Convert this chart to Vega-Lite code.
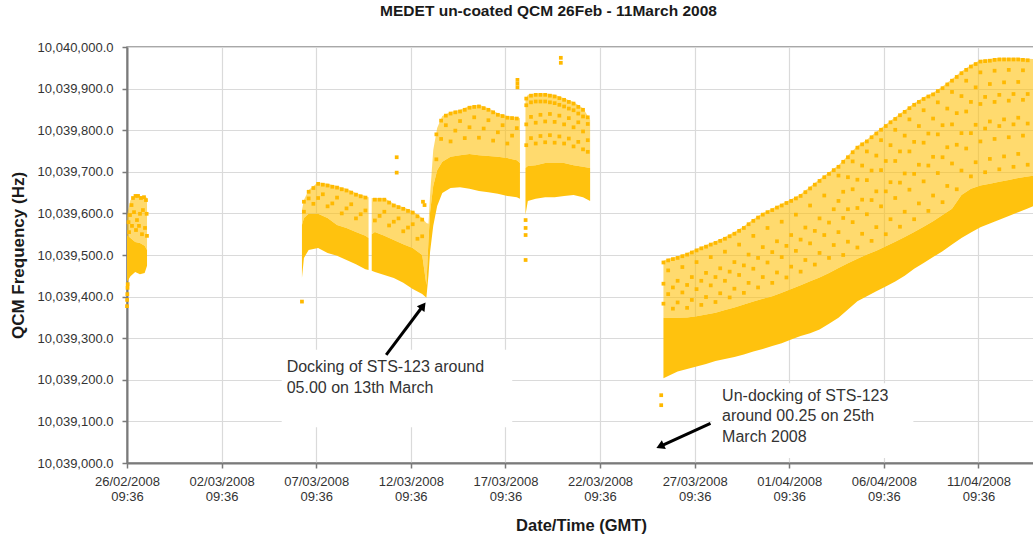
{
  "$schema": "https://vega.github.io/schema/vega-lite/v6.json",
  "autosize": "none",
  "width": 907,
  "height": 416,
  "padding": {"left": 127, "top": 47, "right": 0, "bottom": 74},
  "background": "white",
  "title": {
    "text": "MEDET un-coated QCM 26Feb - 11March 2008",
    "font": "Liberation Sans",
    "fontSize": 15.5,
    "fontWeight": "bold",
    "color": "#1a1a1a",
    "anchor": "middle",
    "dx": -32,
    "offset": 22
  },
  "config": {
    "font": "Liberation Sans",
    "view": {"stroke": "#8c8c8c", "strokeWidth": 1.5},
    "axis": {
      "labelFont": "Liberation Sans",
      "labelFontSize": 13,
      "labelColor": "#333333",
      "titleFont": "Liberation Sans",
      "titleFontSize": 16.5,
      "titleFontWeight": "bold",
      "titleColor": "#1a1a1a",
      "gridColor": "#dadada",
      "gridWidth": 1.2,
      "domainColor": "#7a7a7a",
      "domainWidth": 2,
      "tickColor": "#7a7a7a",
      "tickWidth": 1.5,
      "tickSize": 5
    }
  },
  "encoding": {
    "x": {
      "field": "t",
      "type": "temporal",
      "title": "Date/Time (GMT)",
      "scale": {
        "type": "utc",
        "domain": [
          {"year": 2008, "month": 2, "date": 26, "hours": 9, "minutes": 36, "utc": true},
          {"year": 2008, "month": 4, "date": 14, "hours": 8, "minutes": 0, "utc": true}
        ]
      },
      "axis": {
        "values": [
          {"year": 2008, "month": 2, "date": 26, "hours": 9, "minutes": 36, "utc": true},
          {"year": 2008, "month": 3, "date": 2, "hours": 9, "minutes": 36, "utc": true},
          {"year": 2008, "month": 3, "date": 7, "hours": 9, "minutes": 36, "utc": true},
          {"year": 2008, "month": 3, "date": 12, "hours": 9, "minutes": 36, "utc": true},
          {"year": 2008, "month": 3, "date": 17, "hours": 9, "minutes": 36, "utc": true},
          {"year": 2008, "month": 3, "date": 22, "hours": 9, "minutes": 36, "utc": true},
          {"year": 2008, "month": 3, "date": 27, "hours": 9, "minutes": 36, "utc": true},
          {"year": 2008, "month": 4, "date": 1, "hours": 9, "minutes": 36, "utc": true},
          {"year": 2008, "month": 4, "date": 6, "hours": 9, "minutes": 36, "utc": true},
          {"year": 2008, "month": 4, "date": 11, "hours": 9, "minutes": 36, "utc": true}
        ],
        "labelExpr": "[utcFormat(datum.value, '%d/%m/%Y'), utcFormat(datum.value, '%H:%M')]",
        "labelLineHeight": 15,
        "labelPadding": 7,
        "labelAlign": "center",
        "labelOverlap": false,
        "grid": true,
        "titleX": 454,
        "titleY": 62,
        "titleBaseline": "middle"
      }
    },
    "y": {
      "field": "f",
      "type": "quantitative",
      "title": "QCM Frequency (Hz)",
      "scale": {"domain": [10039000, 10040000], "zero": false, "nice": false},
      "axis": {
        "values": [10039000, 10039100, 10039200, 10039300, 10039400, 10039500, 10039600, 10039700, 10039800, 10039900, 10040000],
        "format": ",.1f",
        "labelPadding": 9,
        "grid": true,
        "titleX": -109,
        "titleY": 208,
        "titleFontSize": 17,
        "titleAngle": 270,
        "titleAlign": "center",
        "titleBaseline": "middle"
      }
    }
  },
  "layer": [
    {
      "data": {
        "values": [
          {"t": "2008-03-05 13:48", "t2": "2008-03-17 18:15", "f": 10039272, "f2": 10039086},
          {"t": "2008-03-28 07:20", "t2": "2008-04-07 23:00", "f": 10039192, "f2": 10039012}
        ],
        "format": {"parse": {"t": "utc:'%Y-%m-%d %H:%M'", "t2": "utc:'%Y-%m-%d %H:%M'"}}
      },
      "mark": {"type": "rect", "fill": "white", "stroke": null},
      "encoding": {
        "x2": {"field": "t2"},
        "y2": {"field": "f2"}
      }
    },
    {
      "data": {
        "values": [
          {"t": "2008-02-26 09:36", "seg": "A", "f": 10039435, "mid": 10039548, "top": 10039596},
          {"t": "2008-02-26 14:00", "seg": "A", "f": 10039449, "mid": 10039541, "top": 10039632},
          {"t": "2008-02-26 20:00", "seg": "A", "f": 10039459, "mid": 10039531, "top": 10039639},
          {"t": "2008-02-27 02:00", "seg": "A", "f": 10039454, "mid": 10039529, "top": 10039642},
          {"t": "2008-02-27 08:00", "seg": "A", "f": 10039457, "mid": 10039522, "top": 10039642},
          {"t": "2008-02-27 11:00", "seg": "A", "f": 10039474, "mid": 10039512, "top": 10039637},

          {"t": "2008-03-06 15:30", "seg": "B1", "f": 10039445, "mid": 10039572, "top": 10039608},
          {"t": "2008-03-06 18:00", "seg": "B1", "f": 10039493, "mid": 10039589, "top": 10039632},
          {"t": "2008-03-07 00:00", "seg": "B1", "f": 10039512, "mid": 10039599, "top": 10039656},
          {"t": "2008-03-07 12:00", "seg": "B1", "f": 10039517, "mid": 10039599, "top": 10039675},
          {"t": "2008-03-08 00:00", "seg": "B1", "f": 10039505, "mid": 10039589, "top": 10039671},
          {"t": "2008-03-08 12:00", "seg": "B1", "f": 10039498, "mid": 10039572, "top": 10039666},
          {"t": "2008-03-09 00:00", "seg": "B1", "f": 10039488, "mid": 10039565, "top": 10039659},
          {"t": "2008-03-09 12:00", "seg": "B1", "f": 10039478, "mid": 10039555, "top": 10039649},
          {"t": "2008-03-10 00:00", "seg": "B1", "f": 10039466, "mid": 10039546, "top": 10039642},
          {"t": "2008-03-10 04:00", "seg": "B1", "f": 10039464, "mid": 10039541, "top": 10039639},

          {"t": "2008-03-10 08:00", "seg": "B2", "f": 10039462, "mid": 10039550, "top": 10039637},
          {"t": "2008-03-10 12:00", "seg": "B2", "f": 10039459, "mid": 10039555, "top": 10039637},
          {"t": "2008-03-11 00:00", "seg": "B2", "f": 10039452, "mid": 10039546, "top": 10039637},
          {"t": "2008-03-11 12:00", "seg": "B2", "f": 10039445, "mid": 10039536, "top": 10039623},
          {"t": "2008-03-12 00:00", "seg": "B2", "f": 10039433, "mid": 10039526, "top": 10039615},
          {"t": "2008-03-12 12:00", "seg": "B2", "f": 10039418, "mid": 10039517, "top": 10039606},
          {"t": "2008-03-13 00:00", "seg": "B2", "f": 10039406, "mid": 10039500, "top": 10039589},
          {"t": "2008-03-13 05:20", "seg": "B2", "f": 10039397, "mid": 10039428, "top": 10039577},
          {"t": "2008-03-13 08:00", "seg": "B2", "f": 10039452, "mid": 10039536, "top": 10039575},
          {"t": "2008-03-13 10:00", "seg": "B2", "f": 10039507, "mid": 10039603, "top": 10039644},
          {"t": "2008-03-13 14:00", "seg": "B2", "f": 10039570, "mid": 10039666, "top": 10039752},
          {"t": "2008-03-13 19:00", "seg": "B2", "f": 10039618, "mid": 10039704, "top": 10039805},
          {"t": "2008-03-14 01:30", "seg": "B2", "f": 10039649, "mid": 10039724, "top": 10039834},
          {"t": "2008-03-14 12:00", "seg": "B2", "f": 10039661, "mid": 10039736, "top": 10039844},
          {"t": "2008-03-15 00:00", "seg": "B2", "f": 10039663, "mid": 10039740, "top": 10039849},
          {"t": "2008-03-15 12:00", "seg": "B2", "f": 10039659, "mid": 10039743, "top": 10039858},
          {"t": "2008-03-16 00:00", "seg": "B2", "f": 10039654, "mid": 10039740, "top": 10039861},
          {"t": "2008-03-16 12:00", "seg": "B2", "f": 10039651, "mid": 10039738, "top": 10039853},
          {"t": "2008-03-17 00:00", "seg": "B2", "f": 10039647, "mid": 10039736, "top": 10039841},
          {"t": "2008-03-17 12:00", "seg": "B2", "f": 10039642, "mid": 10039733, "top": 10039834},
          {"t": "2008-03-18 00:00", "seg": "B2", "f": 10039639, "mid": 10039728, "top": 10039832},
          {"t": "2008-03-18 04:00", "seg": "B2", "f": 10039635, "mid": 10039721, "top": 10039829},

          {"t": "2008-03-18 11:00", "seg": "B3", "f": 10039596, "mid": 10039709, "top": 10039873},
          {"t": "2008-03-18 14:00", "seg": "B3", "f": 10039630, "mid": 10039714, "top": 10039885},
          {"t": "2008-03-19 00:00", "seg": "B3", "f": 10039635, "mid": 10039716, "top": 10039889},
          {"t": "2008-03-19 12:00", "seg": "B3", "f": 10039639, "mid": 10039721, "top": 10039889},
          {"t": "2008-03-20 00:00", "seg": "B3", "f": 10039639, "mid": 10039721, "top": 10039885},
          {"t": "2008-03-20 12:00", "seg": "B3", "f": 10039642, "mid": 10039721, "top": 10039877},
          {"t": "2008-03-21 00:00", "seg": "B3", "f": 10039644, "mid": 10039716, "top": 10039868},
          {"t": "2008-03-21 12:00", "seg": "B3", "f": 10039639, "mid": 10039712, "top": 10039853},
          {"t": "2008-03-21 21:00", "seg": "B3", "f": 10039630, "mid": 10039709, "top": 10039825},

          {"t": "2008-03-25 18:00", "seg": "C", "f": 10039204, "mid": 10039349, "top": 10039486},
          {"t": "2008-03-26 00:00", "seg": "C", "f": 10039209, "mid": 10039349, "top": 10039491},
          {"t": "2008-03-26 12:00", "seg": "C", "f": 10039220, "mid": 10039349, "top": 10039497},
          {"t": "2008-03-27 00:00", "seg": "C", "f": 10039226, "mid": 10039350, "top": 10039505},
          {"t": "2008-03-27 12:00", "seg": "C", "f": 10039232, "mid": 10039353, "top": 10039515},
          {"t": "2008-03-28 00:00", "seg": "C", "f": 10039238, "mid": 10039357, "top": 10039524},
          {"t": "2008-03-28 12:00", "seg": "C", "f": 10039245, "mid": 10039361, "top": 10039533},
          {"t": "2008-03-29 00:00", "seg": "C", "f": 10039250, "mid": 10039368, "top": 10039543},
          {"t": "2008-03-29 12:00", "seg": "C", "f": 10039255, "mid": 10039374, "top": 10039555},
          {"t": "2008-03-30 00:00", "seg": "C", "f": 10039261, "mid": 10039381, "top": 10039569},
          {"t": "2008-03-30 12:00", "seg": "C", "f": 10039268, "mid": 10039388, "top": 10039586},
          {"t": "2008-03-31 00:00", "seg": "C", "f": 10039274, "mid": 10039395, "top": 10039601},
          {"t": "2008-03-31 12:00", "seg": "C", "f": 10039281, "mid": 10039401, "top": 10039612},
          {"t": "2008-04-01 00:00", "seg": "C", "f": 10039288, "mid": 10039409, "top": 10039623},
          {"t": "2008-04-01 12:00", "seg": "C", "f": 10039297, "mid": 10039418, "top": 10039634},
          {"t": "2008-04-02 00:00", "seg": "C", "f": 10039305, "mid": 10039427, "top": 10039646},
          {"t": "2008-04-02 12:00", "seg": "C", "f": 10039312, "mid": 10039437, "top": 10039664},
          {"t": "2008-04-03 00:00", "seg": "C", "f": 10039321, "mid": 10039446, "top": 10039682},
          {"t": "2008-04-03 12:00", "seg": "C", "f": 10039335, "mid": 10039457, "top": 10039699},
          {"t": "2008-04-04 00:00", "seg": "C", "f": 10039349, "mid": 10039469, "top": 10039716},
          {"t": "2008-04-04 12:00", "seg": "C", "f": 10039369, "mid": 10039480, "top": 10039739},
          {"t": "2008-04-05 00:00", "seg": "C", "f": 10039389, "mid": 10039491, "top": 10039762},
          {"t": "2008-04-05 12:00", "seg": "C", "f": 10039401, "mid": 10039501, "top": 10039777},
          {"t": "2008-04-06 00:00", "seg": "C", "f": 10039413, "mid": 10039510, "top": 10039796},
          {"t": "2008-04-06 12:00", "seg": "C", "f": 10039424, "mid": 10039521, "top": 10039814},
          {"t": "2008-04-07 00:00", "seg": "C", "f": 10039436, "mid": 10039532, "top": 10039831},
          {"t": "2008-04-07 12:00", "seg": "C", "f": 10039450, "mid": 10039543, "top": 10039848},
          {"t": "2008-04-08 00:00", "seg": "C", "f": 10039467, "mid": 10039555, "top": 10039865},
          {"t": "2008-04-08 12:00", "seg": "C", "f": 10039481, "mid": 10039568, "top": 10039879},
          {"t": "2008-04-09 00:00", "seg": "C", "f": 10039495, "mid": 10039581, "top": 10039890},
          {"t": "2008-04-09 12:00", "seg": "C", "f": 10039509, "mid": 10039596, "top": 10039905},
          {"t": "2008-04-10 00:00", "seg": "C", "f": 10039525, "mid": 10039611, "top": 10039923},
          {"t": "2008-04-10 12:00", "seg": "C", "f": 10039541, "mid": 10039644, "top": 10039941},
          {"t": "2008-04-11 00:00", "seg": "C", "f": 10039554, "mid": 10039659, "top": 10039957},
          {"t": "2008-04-11 12:00", "seg": "C", "f": 10039567, "mid": 10039667, "top": 10039969},
          {"t": "2008-04-12 00:00", "seg": "C", "f": 10039576, "mid": 10039671, "top": 10039971},
          {"t": "2008-04-12 12:00", "seg": "C", "f": 10039585, "mid": 10039676, "top": 10039974},
          {"t": "2008-04-13 00:00", "seg": "C", "f": 10039594, "mid": 10039680, "top": 10039974},
          {"t": "2008-04-13 12:00", "seg": "C", "f": 10039603, "mid": 10039685, "top": 10039974},
          {"t": "2008-04-14 00:00", "seg": "C", "f": 10039612, "mid": 10039689, "top": 10039972},
          {"t": "2008-04-14 08:00", "seg": "C", "f": 10039618, "mid": 10039691, "top": 10039971}
        ],
        "format": {"parse": {"t": "utc:'%Y-%m-%d %H:%M'"}}
      },
      "layer": [
        {
          "mark": {"type": "area", "color": "#FFC20E", "opacity": 0.6, "interpolate": "linear"},
          "encoding": {
            "y": {"field": "mid"},
            "y2": {"field": "top"},
            "detail": {"field": "seg", "type": "nominal"}
          }
        },
        {
          "mark": {"type": "area", "color": "#FFC20E", "interpolate": "linear"},
          "encoding": {
            "y2": {"field": "mid"},
            "detail": {"field": "seg", "type": "nominal"}
          }
        }
      ]
    },
    {
      "data": {
        "values": [
          {"t": "2008-02-26 09:36", "f": 10039377},
          {"t": "2008-02-26 09:45", "f": 10039392},
          {"t": "2008-02-26 10:00", "f": 10039406},
          {"t": "2008-02-26 10:15", "f": 10039421},
          {"t": "2008-02-26 10:30", "f": 10039430},
          {"t": "2008-02-26 11:30", "f": 10039579},
          {"t": "2008-02-26 12:10", "f": 10039555},
          {"t": "2008-02-26 13:24", "f": 10039596},
          {"t": "2008-02-26 15:20", "f": 10039620},
          {"t": "2008-02-26 15:55", "f": 10039570},
          {"t": "2008-02-26 17:12", "f": 10039637},
          {"t": "2008-02-26 18:30", "f": 10039603},
          {"t": "2008-02-26 20:24", "f": 10039642},
          {"t": "2008-02-26 21:00", "f": 10039560},
          {"t": "2008-02-26 22:15", "f": 10039584},
          {"t": "2008-02-26 23:36", "f": 10039642},
          {"t": "2008-02-27 00:48", "f": 10039570},
          {"t": "2008-02-27 02:05", "f": 10039599},
          {"t": "2008-02-27 03:20", "f": 10039637},
          {"t": "2008-02-27 04:35", "f": 10039550},
          {"t": "2008-02-27 05:50", "f": 10039608},
          {"t": "2008-02-27 07:10", "f": 10039639},
          {"t": "2008-02-27 08:25", "f": 10039565},
          {"t": "2008-02-27 09:40", "f": 10039632},
          {"t": "2008-02-27 10:30", "f": 10039599},
          {"t": "2008-02-27 10:55", "f": 10039546},

          {"t": "2008-03-06 15:30", "f": 10039388},
          {"t": "2008-03-11 15:40", "f": 10039735},
          {"t": "2008-03-11 15:40", "f": 10039698},
          {"t": "2008-03-13 01:00", "f": 10039628},
          {"t": "2008-03-13 03:00", "f": 10039620},
          {"t": "2008-03-18 00:50", "f": 10039921},
          {"t": "2008-03-18 00:50", "f": 10039912},
          {"t": "2008-03-18 00:50", "f": 10039903},
          {"t": "2008-03-18 11:10", "f": 10039584},
          {"t": "2008-03-18 11:10", "f": 10039565},
          {"t": "2008-03-18 11:10", "f": 10039548},
          {"t": "2008-03-18 11:10", "f": 10039488},
          {"t": "2008-03-20 07:50", "f": 10039974},
          {"t": "2008-03-20 07:50", "f": 10039962},
          {"t": "2008-03-25 15:10", "f": 10039163},
          {"t": "2008-03-25 15:10", "f": 10039139},

          {"t": "2008-03-06 18:00", "f": 10039628}, {"t": "2008-03-06 18:00", "f": 10039604},
          {"t": "2008-03-07 00:00", "f": 10039652}, {"t": "2008-03-07 00:00", "f": 10039636},
          {"t": "2008-03-07 06:00", "f": 10039661}, {"t": "2008-03-07 06:00", "f": 10039623},
          {"t": "2008-03-07 12:00", "f": 10039671}, {"t": "2008-03-07 12:00", "f": 10039637},
          {"t": "2008-03-07 18:00", "f": 10039669}, {"t": "2008-03-07 18:00", "f": 10039646},
          {"t": "2008-03-08 00:00", "f": 10039667}, {"t": "2008-03-08 00:00", "f": 10039617},
          {"t": "2008-03-08 06:00", "f": 10039664}, {"t": "2008-03-08 06:00", "f": 10039624},
          {"t": "2008-03-08 12:00", "f": 10039662}, {"t": "2008-03-08 12:00", "f": 10039638},
          {"t": "2008-03-08 18:00", "f": 10039658}, {"t": "2008-03-08 18:00", "f": 10039600},
          {"t": "2008-03-09 00:00", "f": 10039655}, {"t": "2008-03-09 00:00", "f": 10039612},
          {"t": "2008-03-09 06:00", "f": 10039650}, {"t": "2008-03-09 06:00", "f": 10039622},
          {"t": "2008-03-09 12:00", "f": 10039645}, {"t": "2008-03-09 12:00", "f": 10039588},
          {"t": "2008-03-09 18:00", "f": 10039641}, {"t": "2008-03-09 18:00", "f": 10039598},
          {"t": "2008-03-10 00:00", "f": 10039638}, {"t": "2008-03-10 00:00", "f": 10039607},
          {"t": "2008-03-10 12:00", "f": 10039633}, {"t": "2008-03-10 12:00", "f": 10039583},
          {"t": "2008-03-10 18:00", "f": 10039633}, {"t": "2008-03-10 18:00", "f": 10039594},
          {"t": "2008-03-11 00:00", "f": 10039633}, {"t": "2008-03-11 00:00", "f": 10039604},
          {"t": "2008-03-11 06:00", "f": 10039626}, {"t": "2008-03-11 06:00", "f": 10039571},
          {"t": "2008-03-11 12:00", "f": 10039619}, {"t": "2008-03-11 12:00", "f": 10039580},
          {"t": "2008-03-11 18:00", "f": 10039615}, {"t": "2008-03-11 18:00", "f": 10039588},
          {"t": "2008-03-12 00:00", "f": 10039611}, {"t": "2008-03-12 00:00", "f": 10039557},
          {"t": "2008-03-12 06:00", "f": 10039606}, {"t": "2008-03-12 06:00", "f": 10039566},
          {"t": "2008-03-12 12:00", "f": 10039602}, {"t": "2008-03-12 12:00", "f": 10039574},
          {"t": "2008-03-12 18:00", "f": 10039593}, {"t": "2008-03-12 18:00", "f": 10039539},
          {"t": "2008-03-13 00:00", "f": 10039585}, {"t": "2008-03-13 00:00", "f": 10039545},

          {"t": "2008-03-13 18:00", "f": 10039790}, {"t": "2008-03-13 18:00", "f": 10039730},
          {"t": "2008-03-14 00:00", "f": 10039823}, {"t": "2008-03-14 00:00", "f": 10039779},
          {"t": "2008-03-14 06:00", "f": 10039835}, {"t": "2008-03-14 06:00", "f": 10039812},
          {"t": "2008-03-14 12:00", "f": 10039840}, {"t": "2008-03-14 12:00", "f": 10039773},
          {"t": "2008-03-14 18:00", "f": 10039843}, {"t": "2008-03-14 18:00", "f": 10039799},
          {"t": "2008-03-15 00:00", "f": 10039845}, {"t": "2008-03-15 00:00", "f": 10039822},
          {"t": "2008-03-15 06:00", "f": 10039849}, {"t": "2008-03-15 06:00", "f": 10039781},
          {"t": "2008-03-15 12:00", "f": 10039854}, {"t": "2008-03-15 12:00", "f": 10039807},
          {"t": "2008-03-15 18:00", "f": 10039856}, {"t": "2008-03-15 18:00", "f": 10039831},
          {"t": "2008-03-16 00:00", "f": 10039857}, {"t": "2008-03-16 00:00", "f": 10039782},
          {"t": "2008-03-16 06:00", "f": 10039853}, {"t": "2008-03-16 06:00", "f": 10039804},
          {"t": "2008-03-16 12:00", "f": 10039849}, {"t": "2008-03-16 12:00", "f": 10039824},
          {"t": "2008-03-16 18:00", "f": 10039843}, {"t": "2008-03-16 18:00", "f": 10039775},
          {"t": "2008-03-17 00:00", "f": 10039837}, {"t": "2008-03-17 00:00", "f": 10039795},
          {"t": "2008-03-17 06:00", "f": 10039834}, {"t": "2008-03-17 06:00", "f": 10039812},
          {"t": "2008-03-17 12:00", "f": 10039830}, {"t": "2008-03-17 12:00", "f": 10039768},
          {"t": "2008-03-17 18:00", "f": 10039829}, {"t": "2008-03-17 18:00", "f": 10039787},
          {"t": "2008-03-18 00:00", "f": 10039828}, {"t": "2008-03-18 00:00", "f": 10039805},

          {"t": "2008-03-18 12:00", "f": 10039876}, {"t": "2008-03-18 12:00", "f": 10039860}, {"t": "2008-03-18 12:00", "f": 10039764}, {"t": "2008-03-18 12:00", "f": 10039814},
          {"t": "2008-03-18 18:00", "f": 10039883}, {"t": "2008-03-18 18:00", "f": 10039867}, {"t": "2008-03-18 18:00", "f": 10039781}, {"t": "2008-03-18 18:00", "f": 10039832},
          {"t": "2008-03-19 00:00", "f": 10039885}, {"t": "2008-03-19 00:00", "f": 10039869}, {"t": "2008-03-19 00:00", "f": 10039768}, {"t": "2008-03-19 00:00", "f": 10039818},
          {"t": "2008-03-19 06:00", "f": 10039885}, {"t": "2008-03-19 06:00", "f": 10039869}, {"t": "2008-03-19 06:00", "f": 10039786}, {"t": "2008-03-19 06:00", "f": 10039837},
          {"t": "2008-03-19 12:00", "f": 10039885}, {"t": "2008-03-19 12:00", "f": 10039869}, {"t": "2008-03-19 12:00", "f": 10039771}, {"t": "2008-03-19 12:00", "f": 10039821},
          {"t": "2008-03-19 18:00", "f": 10039883}, {"t": "2008-03-19 18:00", "f": 10039867}, {"t": "2008-03-19 18:00", "f": 10039788}, {"t": "2008-03-19 18:00", "f": 10039839},
          {"t": "2008-03-20 00:00", "f": 10039881}, {"t": "2008-03-20 00:00", "f": 10039865}, {"t": "2008-03-20 00:00", "f": 10039770}, {"t": "2008-03-20 00:00", "f": 10039820},
          {"t": "2008-03-20 06:00", "f": 10039877}, {"t": "2008-03-20 06:00", "f": 10039861}, {"t": "2008-03-20 06:00", "f": 10039785}, {"t": "2008-03-20 06:00", "f": 10039835},
          {"t": "2008-03-20 12:00", "f": 10039873}, {"t": "2008-03-20 12:00", "f": 10039857}, {"t": "2008-03-20 12:00", "f": 10039768}, {"t": "2008-03-20 12:00", "f": 10039814},
          {"t": "2008-03-20 18:00", "f": 10039868}, {"t": "2008-03-20 18:00", "f": 10039852}, {"t": "2008-03-20 18:00", "f": 10039780}, {"t": "2008-03-20 18:00", "f": 10039829},
          {"t": "2008-03-21 00:00", "f": 10039864}, {"t": "2008-03-21 00:00", "f": 10039848}, {"t": "2008-03-21 00:00", "f": 10039761}, {"t": "2008-03-21 00:00", "f": 10039807},
          {"t": "2008-03-21 06:00", "f": 10039856}, {"t": "2008-03-21 06:00", "f": 10039840}, {"t": "2008-03-21 06:00", "f": 10039772}, {"t": "2008-03-21 06:00", "f": 10039819},
          {"t": "2008-03-21 12:00", "f": 10039849}, {"t": "2008-03-21 12:00", "f": 10039833}, {"t": "2008-03-21 12:00", "f": 10039754}, {"t": "2008-03-21 12:00", "f": 10039797},
          {"t": "2008-03-21 18:00", "f": 10039831}, {"t": "2008-03-21 18:00", "f": 10039815}, {"t": "2008-03-21 18:00", "f": 10039748}, {"t": "2008-03-21 18:00", "f": 10039776},

          {"t": "2008-03-25 18:00", "f": 10039482}, {"t": "2008-03-25 18:00", "f": 10039383}, {"t": "2008-03-25 18:00", "f": 10039431},
          {"t": "2008-03-26 00:00", "f": 10039487}, {"t": "2008-03-26 00:00", "f": 10039406}, {"t": "2008-03-26 00:00", "f": 10039463},
          {"t": "2008-03-26 06:00", "f": 10039490}, {"t": "2008-03-26 06:00", "f": 10039371}, {"t": "2008-03-26 06:00", "f": 10039422},
          {"t": "2008-03-26 12:00", "f": 10039493}, {"t": "2008-03-26 12:00", "f": 10039386}, {"t": "2008-03-26 12:00", "f": 10039438},
          {"t": "2008-03-26 18:00", "f": 10039497}, {"t": "2008-03-26 18:00", "f": 10039410}, {"t": "2008-03-26 18:00", "f": 10039471},
          {"t": "2008-03-27 00:00", "f": 10039501}, {"t": "2008-03-27 00:00", "f": 10039373}, {"t": "2008-03-27 00:00", "f": 10039428},
          {"t": "2008-03-27 06:00", "f": 10039506}, {"t": "2008-03-27 06:00", "f": 10039392}, {"t": "2008-03-27 06:00", "f": 10039447},
          {"t": "2008-03-27 12:00", "f": 10039511}, {"t": "2008-03-27 12:00", "f": 10039418}, {"t": "2008-03-27 12:00", "f": 10039483},
          {"t": "2008-03-27 18:00", "f": 10039516}, {"t": "2008-03-27 18:00", "f": 10039380}, {"t": "2008-03-27 18:00", "f": 10039438},
          {"t": "2008-03-28 00:00", "f": 10039520}, {"t": "2008-03-28 00:00", "f": 10039399}, {"t": "2008-03-28 00:00", "f": 10039457},
          {"t": "2008-03-28 06:00", "f": 10039525}, {"t": "2008-03-28 06:00", "f": 10039427}, {"t": "2008-03-28 06:00", "f": 10039495},
          {"t": "2008-03-28 12:00", "f": 10039529}, {"t": "2008-03-28 12:00", "f": 10039387}, {"t": "2008-03-28 12:00", "f": 10039447},
          {"t": "2008-03-28 18:00", "f": 10039534}, {"t": "2008-03-28 18:00", "f": 10039408}, {"t": "2008-03-28 18:00", "f": 10039468},
          {"t": "2008-03-29 00:00", "f": 10039539}, {"t": "2008-03-29 00:00", "f": 10039438}, {"t": "2008-03-29 00:00", "f": 10039508},
          {"t": "2008-03-29 06:00", "f": 10039545}, {"t": "2008-03-29 06:00", "f": 10039398}, {"t": "2008-03-29 06:00", "f": 10039460},
          {"t": "2008-03-29 12:00", "f": 10039551}, {"t": "2008-03-29 12:00", "f": 10039419}, {"t": "2008-03-29 12:00", "f": 10039483},
          {"t": "2008-03-29 18:00", "f": 10039558}, {"t": "2008-03-29 18:00", "f": 10039452}, {"t": "2008-03-29 18:00", "f": 10039525},
          {"t": "2008-03-30 00:00", "f": 10039565}, {"t": "2008-03-30 00:00", "f": 10039409}, {"t": "2008-03-30 00:00", "f": 10039475},
          {"t": "2008-03-30 06:00", "f": 10039574}, {"t": "2008-03-30 06:00", "f": 10039433}, {"t": "2008-03-30 06:00", "f": 10039501},
          {"t": "2008-03-30 12:00", "f": 10039582}, {"t": "2008-03-30 12:00", "f": 10039467}, {"t": "2008-03-30 12:00", "f": 10039546},
          {"t": "2008-03-30 18:00", "f": 10039590}, {"t": "2008-03-30 18:00", "f": 10039422}, {"t": "2008-03-30 18:00", "f": 10039493},
          {"t": "2008-03-31 00:00", "f": 10039597}, {"t": "2008-03-31 00:00", "f": 10039447}, {"t": "2008-03-31 00:00", "f": 10039519},
          {"t": "2008-03-31 06:00", "f": 10039603}, {"t": "2008-03-31 06:00", "f": 10039482}, {"t": "2008-03-31 06:00", "f": 10039565},
          {"t": "2008-03-31 12:00", "f": 10039608}, {"t": "2008-03-31 12:00", "f": 10039433}, {"t": "2008-03-31 12:00", "f": 10039507},
          {"t": "2008-03-31 18:00", "f": 10039614}, {"t": "2008-03-31 18:00", "f": 10039458}, {"t": "2008-03-31 18:00", "f": 10039533},
          {"t": "2008-04-01 00:00", "f": 10039619}, {"t": "2008-04-01 00:00", "f": 10039495}, {"t": "2008-04-01 00:00", "f": 10039580},
          {"t": "2008-04-01 06:00", "f": 10039625}, {"t": "2008-04-01 06:00", "f": 10039446}, {"t": "2008-04-01 06:00", "f": 10039522},
          {"t": "2008-04-01 12:00", "f": 10039630}, {"t": "2008-04-01 12:00", "f": 10039472}, {"t": "2008-04-01 12:00", "f": 10039548},
          {"t": "2008-04-01 18:00", "f": 10039636}, {"t": "2008-04-01 18:00", "f": 10039510}, {"t": "2008-04-01 18:00", "f": 10039597},
          {"t": "2008-04-02 00:00", "f": 10039642}, {"t": "2008-04-02 00:00", "f": 10039460}, {"t": "2008-04-02 00:00", "f": 10039537},
          {"t": "2008-04-02 06:00", "f": 10039651}, {"t": "2008-04-02 06:00", "f": 10039488}, {"t": "2008-04-02 06:00", "f": 10039566},
          {"t": "2008-04-02 12:00", "f": 10039660}, {"t": "2008-04-02 12:00", "f": 10039528}, {"t": "2008-04-02 12:00", "f": 10039619},
          {"t": "2008-04-02 18:00", "f": 10039669}, {"t": "2008-04-02 18:00", "f": 10039477}, {"t": "2008-04-02 18:00", "f": 10039558},
          {"t": "2008-04-03 00:00", "f": 10039678}, {"t": "2008-04-03 00:00", "f": 10039505}, {"t": "2008-04-03 00:00", "f": 10039588},
          {"t": "2008-04-03 06:00", "f": 10039687}, {"t": "2008-04-03 06:00", "f": 10039548}, {"t": "2008-04-03 06:00", "f": 10039643},
          {"t": "2008-04-03 12:00", "f": 10039695}, {"t": "2008-04-03 12:00", "f": 10039493}, {"t": "2008-04-03 12:00", "f": 10039578},
          {"t": "2008-04-03 18:00", "f": 10039704}, {"t": "2008-04-03 18:00", "f": 10039524}, {"t": "2008-04-03 18:00", "f": 10039610},
          {"t": "2008-04-04 00:00", "f": 10039712}, {"t": "2008-04-04 00:00", "f": 10039555}, {"t": "2008-04-04 00:00", "f": 10039630}, {"t": "2008-04-04 00:00", "f": 10039691},
          {"t": "2008-04-04 06:00", "f": 10039724}, {"t": "2008-04-04 06:00", "f": 10039500}, {"t": "2008-04-04 06:00", "f": 10039589}, {"t": "2008-04-04 06:00", "f": 10039652},
          {"t": "2008-04-04 12:00", "f": 10039735}, {"t": "2008-04-04 12:00", "f": 10039532}, {"t": "2008-04-04 12:00", "f": 10039610}, {"t": "2008-04-04 12:00", "f": 10039687},
          {"t": "2008-04-04 18:00", "f": 10039747}, {"t": "2008-04-04 18:00", "f": 10039579}, {"t": "2008-04-04 18:00", "f": 10039658}, {"t": "2008-04-04 18:00", "f": 10039725},
          {"t": "2008-04-05 00:00", "f": 10039758}, {"t": "2008-04-05 00:00", "f": 10039518}, {"t": "2008-04-05 00:00", "f": 10039613}, {"t": "2008-04-05 00:00", "f": 10039681},
          {"t": "2008-04-05 06:00", "f": 10039766}, {"t": "2008-04-05 06:00", "f": 10039551}, {"t": "2008-04-05 06:00", "f": 10039633}, {"t": "2008-04-05 06:00", "f": 10039715},
          {"t": "2008-04-05 12:00", "f": 10039773}, {"t": "2008-04-05 12:00", "f": 10039598}, {"t": "2008-04-05 12:00", "f": 10039680}, {"t": "2008-04-05 12:00", "f": 10039749},
          {"t": "2008-04-05 18:00", "f": 10039783}, {"t": "2008-04-05 18:00", "f": 10039534}, {"t": "2008-04-05 18:00", "f": 10039632}, {"t": "2008-04-05 18:00", "f": 10039703},
          {"t": "2008-04-06 00:00", "f": 10039792}, {"t": "2008-04-06 00:00", "f": 10039567}, {"t": "2008-04-06 00:00", "f": 10039653}, {"t": "2008-04-06 00:00", "f": 10039739},
          {"t": "2008-04-06 06:00", "f": 10039801}, {"t": "2008-04-06 06:00", "f": 10039617}, {"t": "2008-04-06 06:00", "f": 10039704}, {"t": "2008-04-06 06:00", "f": 10039776},
          {"t": "2008-04-06 12:00", "f": 10039810}, {"t": "2008-04-06 12:00", "f": 10039550}, {"t": "2008-04-06 12:00", "f": 10039653}, {"t": "2008-04-06 12:00", "f": 10039726},
          {"t": "2008-04-06 18:00", "f": 10039819}, {"t": "2008-04-06 18:00", "f": 10039586}, {"t": "2008-04-06 18:00", "f": 10039675}, {"t": "2008-04-06 18:00", "f": 10039764},
          {"t": "2008-04-07 00:00", "f": 10039827}, {"t": "2008-04-07 00:00", "f": 10039637}, {"t": "2008-04-07 00:00", "f": 10039726}, {"t": "2008-04-07 00:00", "f": 10039801},
          {"t": "2008-04-07 06:00", "f": 10039836}, {"t": "2008-04-07 06:00", "f": 10039568}, {"t": "2008-04-07 06:00", "f": 10039674}, {"t": "2008-04-07 06:00", "f": 10039749},
          {"t": "2008-04-07 12:00", "f": 10039844}, {"t": "2008-04-07 12:00", "f": 10039604}, {"t": "2008-04-07 12:00", "f": 10039696}, {"t": "2008-04-07 12:00", "f": 10039787},
          {"t": "2008-04-07 18:00", "f": 10039853}, {"t": "2008-04-07 18:00", "f": 10039657}, {"t": "2008-04-07 18:00", "f": 10039749}, {"t": "2008-04-07 18:00", "f": 10039826},
          {"t": "2008-04-08 00:00", "f": 10039861}, {"t": "2008-04-08 00:00", "f": 10039586}, {"t": "2008-04-08 00:00", "f": 10039695}, {"t": "2008-04-08 00:00", "f": 10039772},
          {"t": "2008-04-08 06:00", "f": 10039868}, {"t": "2008-04-08 06:00", "f": 10039624}, {"t": "2008-04-08 06:00", "f": 10039717}, {"t": "2008-04-08 06:00", "f": 10039810},
          {"t": "2008-04-08 12:00", "f": 10039875}, {"t": "2008-04-08 12:00", "f": 10039677}, {"t": "2008-04-08 12:00", "f": 10039770}, {"t": "2008-04-08 12:00", "f": 10039848},
          {"t": "2008-04-08 18:00", "f": 10039881}, {"t": "2008-04-08 18:00", "f": 10039606}, {"t": "2008-04-08 18:00", "f": 10039715}, {"t": "2008-04-08 18:00", "f": 10039792},
          {"t": "2008-04-09 00:00", "f": 10039886}, {"t": "2008-04-09 00:00", "f": 10039643}, {"t": "2008-04-09 00:00", "f": 10039736}, {"t": "2008-04-09 00:00", "f": 10039828},
          {"t": "2008-04-09 06:00", "f": 10039894}, {"t": "2008-04-09 06:00", "f": 10039697}, {"t": "2008-04-09 06:00", "f": 10039790}, {"t": "2008-04-09 06:00", "f": 10039867},
          {"t": "2008-04-09 12:00", "f": 10039901}, {"t": "2008-04-09 12:00", "f": 10039627}, {"t": "2008-04-09 12:00", "f": 10039735}, {"t": "2008-04-09 12:00", "f": 10039812},
          {"t": "2008-04-09 18:00", "f": 10039910}, {"t": "2008-04-09 18:00", "f": 10039666}, {"t": "2008-04-09 18:00", "f": 10039759}, {"t": "2008-04-09 18:00", "f": 10039852},
          {"t": "2008-04-10 00:00", "f": 10039919}, {"t": "2008-04-10 00:00", "f": 10039720}, {"t": "2008-04-10 00:00", "f": 10039814}, {"t": "2008-04-10 00:00", "f": 10039892},
          {"t": "2008-04-10 06:00", "f": 10039928}, {"t": "2008-04-10 06:00", "f": 10039658}, {"t": "2008-04-10 06:00", "f": 10039765}, {"t": "2008-04-10 06:00", "f": 10039841},
          {"t": "2008-04-10 12:00", "f": 10039937}, {"t": "2008-04-10 12:00", "f": 10039703}, {"t": "2008-04-10 12:00", "f": 10039793}, {"t": "2008-04-10 12:00", "f": 10039882},
          {"t": "2008-04-10 18:00", "f": 10039945}, {"t": "2008-04-10 18:00", "f": 10039756}, {"t": "2008-04-10 18:00", "f": 10039845}, {"t": "2008-04-10 18:00", "f": 10039919},
          {"t": "2008-04-11 00:00", "f": 10039953}, {"t": "2008-04-11 00:00", "f": 10039689}, {"t": "2008-04-11 00:00", "f": 10039793}, {"t": "2008-04-11 00:00", "f": 10039868},
          {"t": "2008-04-11 06:00", "f": 10039959}, {"t": "2008-04-11 06:00", "f": 10039723}, {"t": "2008-04-11 06:00", "f": 10039813}, {"t": "2008-04-11 06:00", "f": 10039903},
          {"t": "2008-04-11 12:00", "f": 10039965}, {"t": "2008-04-11 12:00", "f": 10039773}, {"t": "2008-04-11 12:00", "f": 10039863}, {"t": "2008-04-11 12:00", "f": 10039939},
          {"t": "2008-04-11 18:00", "f": 10039966}, {"t": "2008-04-11 18:00", "f": 10039699}, {"t": "2008-04-11 18:00", "f": 10039804}, {"t": "2008-04-11 18:00", "f": 10039880},
          {"t": "2008-04-12 00:00", "f": 10039967}, {"t": "2008-04-12 00:00", "f": 10039731}, {"t": "2008-04-12 00:00", "f": 10039821}, {"t": "2008-04-12 00:00", "f": 10039911},
          {"t": "2008-04-12 06:00", "f": 10039969}, {"t": "2008-04-12 06:00", "f": 10039779}, {"t": "2008-04-12 06:00", "f": 10039868}, {"t": "2008-04-12 06:00", "f": 10039943},
          {"t": "2008-04-12 12:00", "f": 10039970}, {"t": "2008-04-12 12:00", "f": 10039706}, {"t": "2008-04-12 12:00", "f": 10039810}, {"t": "2008-04-12 12:00", "f": 10039885},
          {"t": "2008-04-12 18:00", "f": 10039970}, {"t": "2008-04-12 18:00", "f": 10039737}, {"t": "2008-04-12 18:00", "f": 10039826}, {"t": "2008-04-12 18:00", "f": 10039915},
          {"t": "2008-04-13 00:00", "f": 10039970}, {"t": "2008-04-13 00:00", "f": 10039783}, {"t": "2008-04-13 00:00", "f": 10039871}, {"t": "2008-04-13 00:00", "f": 10039945},
          {"t": "2008-04-13 06:00", "f": 10039970}, {"t": "2008-04-13 06:00", "f": 10039712}, {"t": "2008-04-13 06:00", "f": 10039814}, {"t": "2008-04-13 06:00", "f": 10039887},
          {"t": "2008-04-13 12:00", "f": 10039970}, {"t": "2008-04-13 12:00", "f": 10039743}, {"t": "2008-04-13 12:00", "f": 10039830}, {"t": "2008-04-13 12:00", "f": 10039916},
          {"t": "2008-04-13 18:00", "f": 10039969}, {"t": "2008-04-13 18:00", "f": 10039787}, {"t": "2008-04-13 18:00", "f": 10039873}, {"t": "2008-04-13 18:00", "f": 10039944},
          {"t": "2008-04-14 00:00", "f": 10039968}, {"t": "2008-04-14 00:00", "f": 10039717}, {"t": "2008-04-14 00:00", "f": 10039816}, {"t": "2008-04-14 00:00", "f": 10039887}
        ],
        "format": {"parse": {"t": "utc:'%Y-%m-%d %H:%M'"}}
      },
      "mark": {"type": "square", "size": 14, "color": "#FFB900", "opacity": 1}
    },
    {
      "data": {
        "values": [
          {"id": "dock", "t": "2008-03-11 02:20", "f": 10039260, "t2": "2008-03-13 01:10", "f2": 10039378},
          {"id": "undock", "t": "2008-03-28 05:40", "f": 10039095, "t2": "2008-03-25 13:48", "f2": 10039040}
        ],
        "format": {"parse": {"t": "utc:'%Y-%m-%d %H:%M'", "t2": "utc:'%Y-%m-%d %H:%M'"}}
      },
      "layer": [
        {
          "mark": {"type": "rule", "color": "#000000", "strokeWidth": 3},
          "encoding": {
            "x2": {"field": "t2"},
            "y2": {"field": "f2"}
          }
        },
        {
          "transform": [{"filter": "datum.id === 'dock'"}],
          "mark": {"type": "point", "shape": "triangle-up", "filled": true, "color": "#000000", "size": 90, "angle": 37, "opacity": 1},
          "encoding": {
            "x": {"field": "t2", "type": "temporal"},
            "y": {"field": "f2", "type": "quantitative"}
          }
        },
        {
          "transform": [{"filter": "datum.id === 'undock'"}],
          "mark": {"type": "point", "shape": "triangle-up", "filled": true, "color": "#000000", "size": 90, "angle": 245, "opacity": 1},
          "encoding": {
            "x": {"field": "t2", "type": "temporal"},
            "y": {"field": "f2", "type": "quantitative"}
          }
        }
      ]
    },
    {
      "data": {
        "values": [
          {"t": "2008-03-05 20:06", "f": 10039250, "note": "Docking of STS-123 around\n05.00 on 13th March"},
          {"t": "2008-03-28 20:24", "f": 10039181, "note": "Un-docking of STS-123\naround 00.25 on 25th\nMarch 2008"}
        ],
        "format": {"parse": {"t": "utc:'%Y-%m-%d %H:%M'"}}
      },
      "mark": {
        "type": "text",
        "font": "Liberation Sans",
        "fontSize": 16,
        "color": "#333333",
        "align": "left",
        "baseline": "top",
        "lineBreak": "\n",
        "lineHeight": 20.5
      },
      "encoding": {
        "text": {"field": "note"}
      }
    }
  ]
}
